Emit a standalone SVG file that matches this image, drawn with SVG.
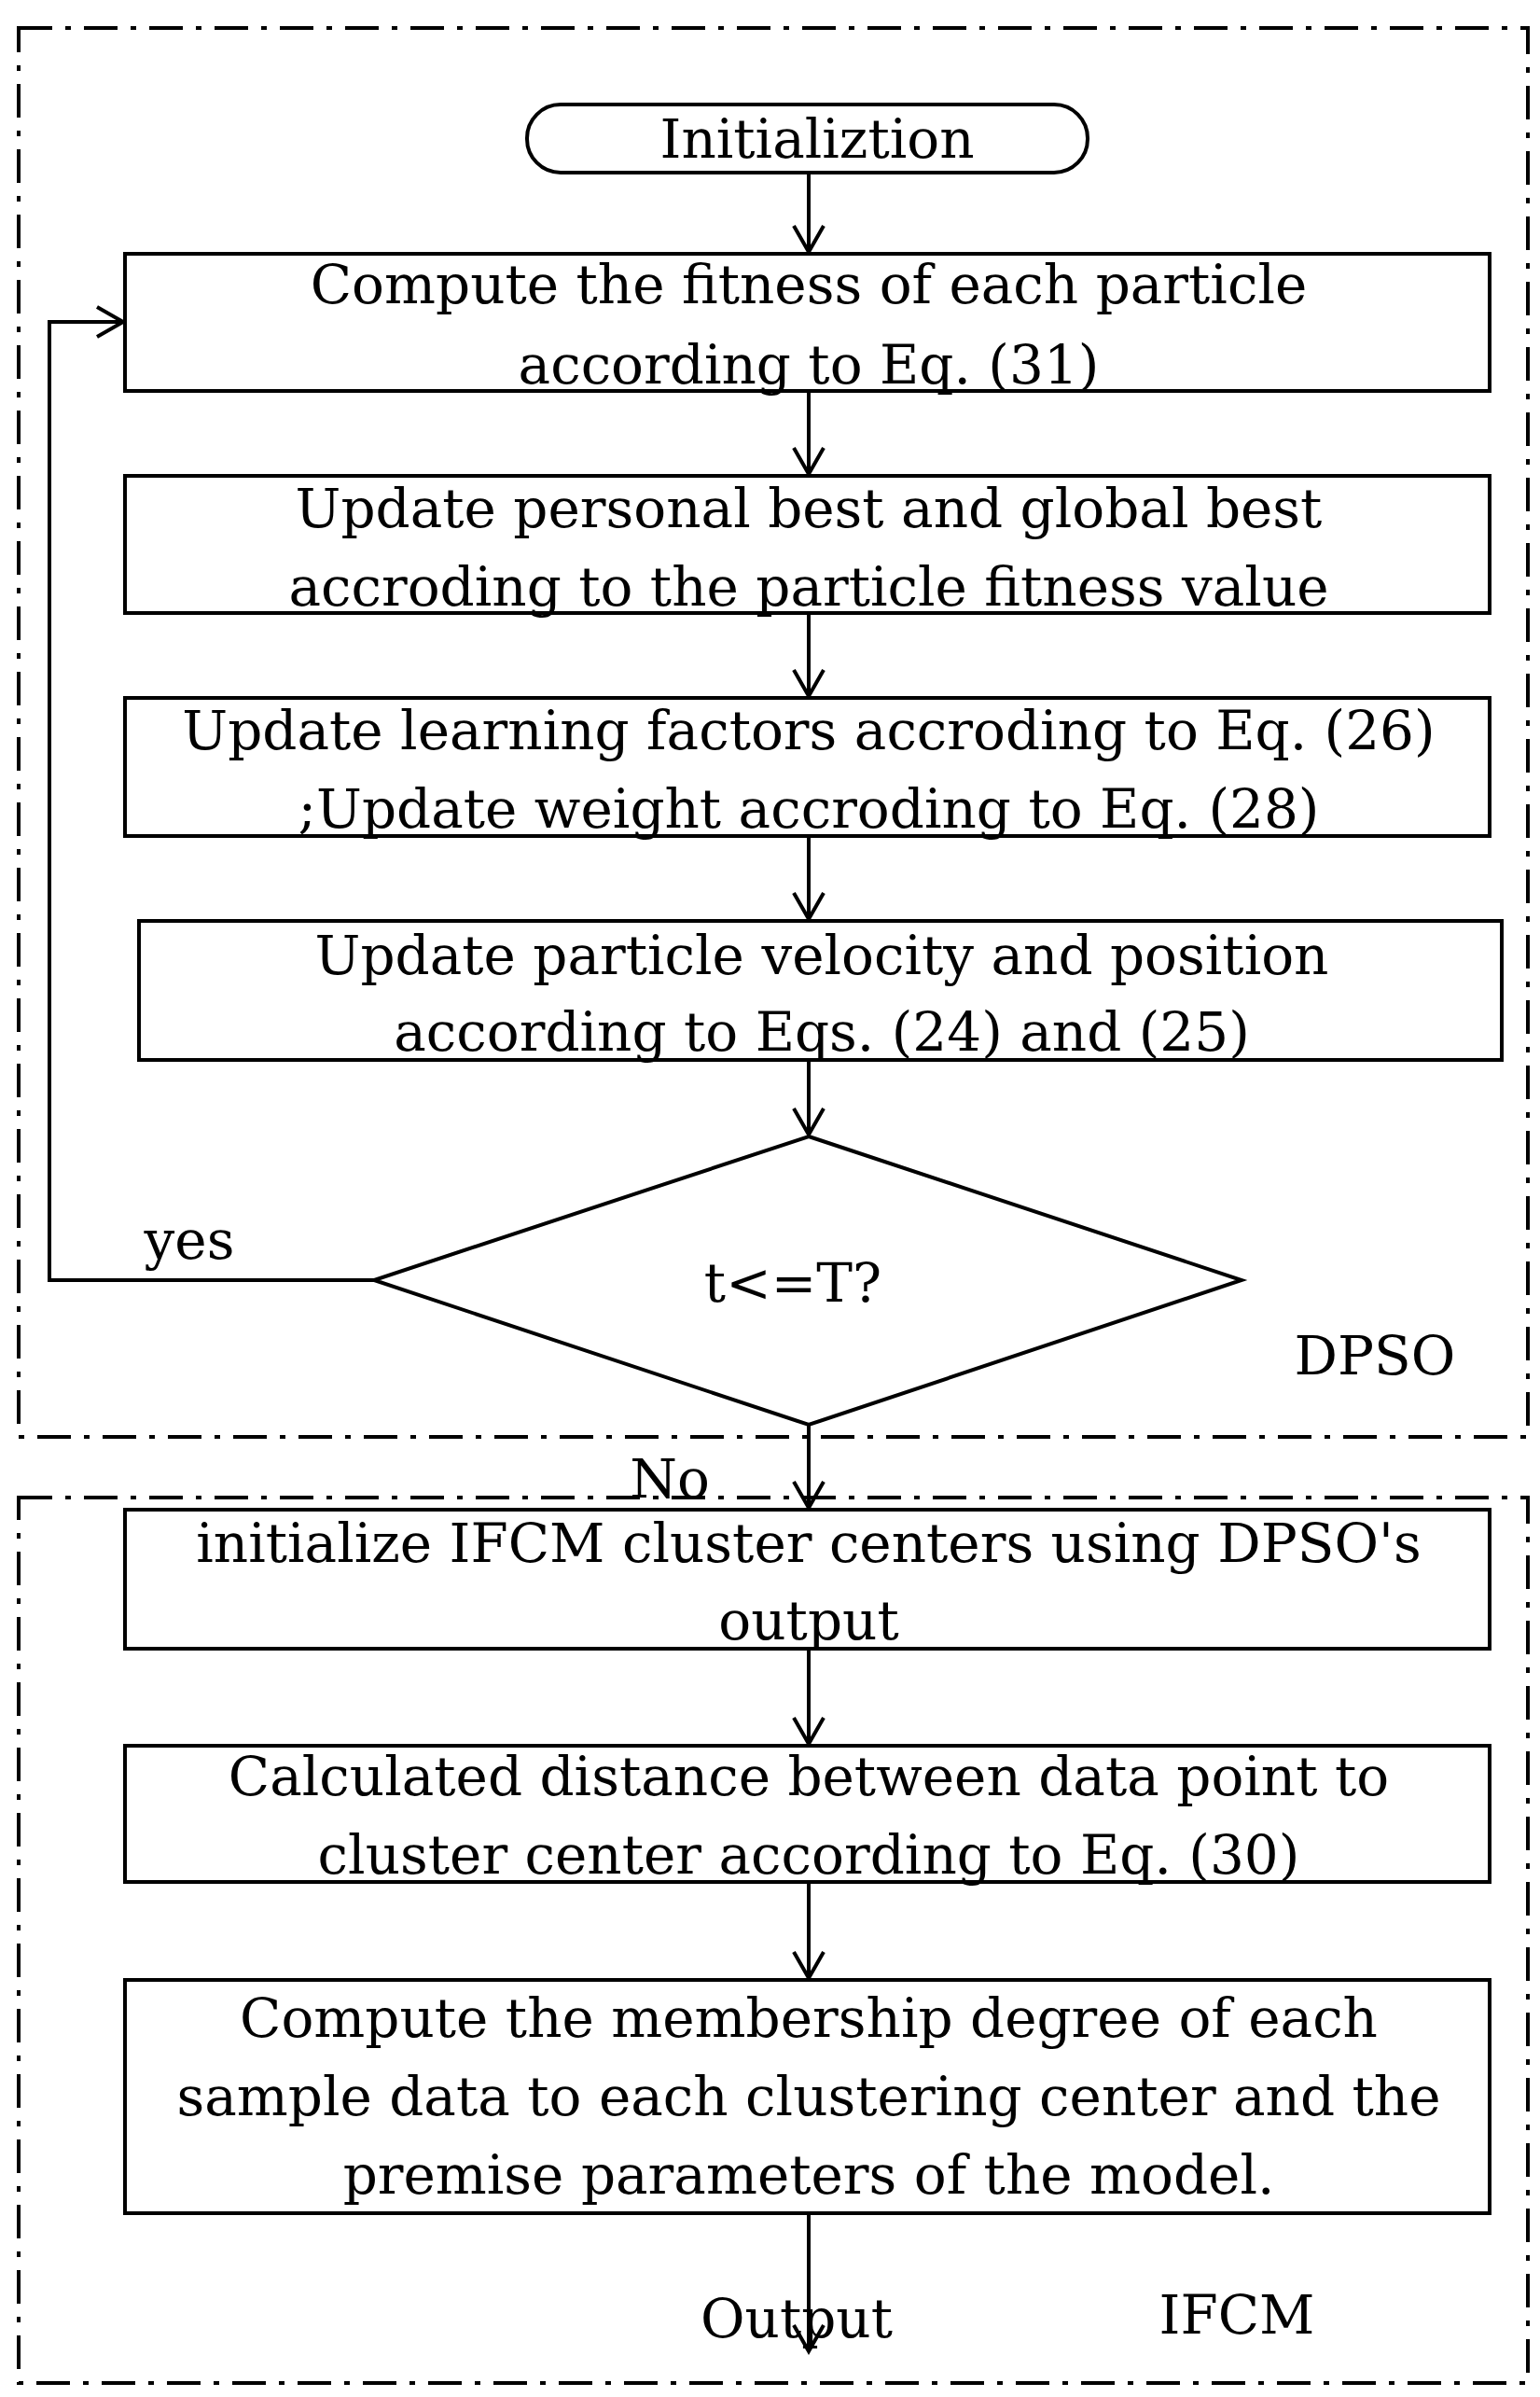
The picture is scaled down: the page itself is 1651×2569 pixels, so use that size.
<svg xmlns="http://www.w3.org/2000/svg" width="1651" height="2569" viewBox="0 0 1651 2569">
<style>
.b{fill:#fff;stroke:#000;stroke-width:4}
.g{fill:none;stroke:#000;stroke-width:4;stroke-dasharray:36 14 6 14}
.c{fill:none;stroke:#000;stroke-width:4}
text{font-family:"DejaVu Serif","Liberation Serif",serif;font-size:58px;fill:#000;text-anchor:middle;dominant-baseline:central}
</style>
<defs>
<marker id="v" markerWidth="40" markerHeight="40" refX="36" refY="20" orient="auto" markerUnits="userSpaceOnUse"><path d="M8,4 L36,20 L8,36" fill="none" stroke="#000" stroke-width="4"/></marker></defs>
<g id="dpso"><rect class="g" x="20" y="30" width="1618" height="1510"/><text x="1474" y="1453">DPSO</text></g>
<g id="ifcm"><rect class="g" x="20" y="1605" width="1618" height="949"/><text x="1326" y="2481">IFCM</text></g>
<g id="connectors">
<line class="c" x1="867" y1="185" x2="867" y2="270" marker-end="url(#v)"/>
<line class="c" x1="867" y1="419" x2="867" y2="508" marker-end="url(#v)"/>
<line class="c" x1="867" y1="657" x2="867" y2="746" marker-end="url(#v)"/>
<line class="c" x1="867" y1="896" x2="867" y2="985" marker-end="url(#v)"/>
<line class="c" x1="867" y1="1136" x2="867" y2="1216" marker-end="url(#v)"/>
<polyline class="c" points="401,1372 53,1372 53,345 132,345" marker-end="url(#v)"/>
<line class="c" x1="867" y1="1527" x2="867" y2="1616" marker-end="url(#v)"/>
<line class="c" x1="867" y1="1767" x2="867" y2="1869" marker-end="url(#v)"/>
<line class="c" x1="867" y1="2017" x2="867" y2="2120" marker-end="url(#v)"/>
<line class="c" x1="867" y1="2372" x2="867" y2="2520" marker-end="url(#v)"/>
</g>
<g id="init"><rect class="b" x="565" y="112" width="601" height="73" rx="36"/><text x="876" y="149">Initializtion</text></g>
<g id="n1"><rect class="b" x="134" y="272" width="1463" height="147"/><text x="867" y="305">Compute the fitness of each particle</text><text x="867" y="391">according to Eq. (31)</text></g>
<g id="n2"><rect class="b" x="134" y="510" width="1463" height="147"/><text x="867" y="545">Update personal best and global best</text><text x="867" y="629">accroding to the particle fitness value</text></g>
<g id="n3"><rect class="b" x="134" y="748" width="1463" height="148"/><text x="867" y="783">Update learning factors accroding to Eq. (26)</text><text x="867" y="867">;Update weight accroding to Eq. (28)</text></g>
<g id="n4"><rect class="b" x="149" y="987" width="1461" height="149"/><text x="881" y="1024">Update particle  velocity and position</text><text x="881" y="1106">according to Eqs. (24) and (25)</text></g>
<g id="d"><polygon class="b" points="867,1218 1331,1372 867,1527 401,1372"/><text x="850" y="1375">t&lt;=T?</text></g>
<text x="203" y="1329">yes</text>
<text x="718" y="1585">No</text>
<g id="n5"><rect class="b" x="134" y="1618" width="1463" height="149"/><text x="867" y="1654">initialize IFCM cluster centers using DPSO's</text><text x="867" y="1737">output</text></g>
<g id="n6"><rect class="b" x="134" y="1871" width="1463" height="146"/><text x="867" y="1904">Calculated distance between data point to</text><text x="867" y="1988">cluster center according to Eq. (30)</text></g>
<g id="n7"><rect class="b" x="134" y="2122" width="1463" height="250"/><text x="867" y="2163">Compute the membership degree of each</text><text x="867" y="2247">sample data to each clustering center and the</text><text x="867" y="2331">premise parameters of the model.</text></g>
<g id="out"><text x="854" y="2485">Output</text></g>
</svg>
